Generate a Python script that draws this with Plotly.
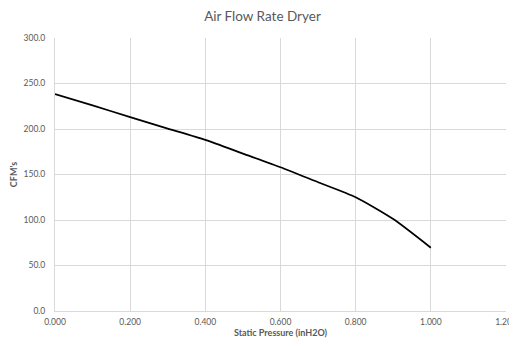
import plotly.graph_objects as go

# static pressure (inH2O) vs air flow (CFM)
pressure = [0.0, 0.1, 0.2, 0.3, 0.4, 0.5, 0.6, 0.7, 0.8, 0.9, 1.0]
cfm = [238.5, 226.0, 213.0, 200.5, 188.0, 173.0, 158.0, 141.5, 125.0, 101.0, 69.5]

FONT = "Lato, 'Open Sans', sans-serif"
TEXT = "#595959"
GRID = "#d9d9d9"
CLEAR = "rgba(0,0,0,0)"

# the page body keeps its default 8px margin, so the figure is sized to fit the window
fig = go.Figure(go.Scatter(
    x=pressure, y=cfm, mode="lines",
    line=dict(color="#000000", width=1.75, shape="spline", smoothing=0.6),
    showlegend=False,
))

fig.update_layout(
    width=509, height=339,
    margin=dict(l=47, r=11, t=30, b=36),
    paper_bgcolor="white", plot_bgcolor="white",
    font=dict(family=FONT, color=TEXT, size=9),
    title=dict(text="Air Flow Rate Dryer", x=0.5, xanchor="center",
               y=1.0, yanchor="top", pad=dict(t=4),
               font=dict(size=13.5, color=TEXT)),
    xaxis=dict(
        range=[0, 1.2], dtick=0.2, tick0=0, tickformat=".3f",
        showgrid=True, gridcolor=GRID, gridwidth=1,
        zeroline=False, showline=True, linecolor=GRID,
        ticks="outside", ticklen=3, tickcolor=CLEAR,
        tickfont=dict(size=8.5), ticklabeloverflow="allow",
        title=dict(text="<b>Static Pressure (inH2O)</b>", standoff=2,
                   font=dict(size=9, color=TEXT)),
        automargin=False,
    ),
    yaxis=dict(
        range=[0, 300], dtick=50, tick0=0, tickformat=".1f",
        showgrid=True, gridcolor=GRID, gridwidth=1,
        zeroline=False, showline=True, linecolor=GRID,
        ticks="outside", ticklen=7, tickcolor=CLEAR,
        tickfont=dict(size=8.5),
        title=dict(text="<b>CFM's</b>", standoff=10,
                   font=dict(size=9, color=TEXT)),
        automargin=False,
    ),
)

fig.write_html("out.html")
